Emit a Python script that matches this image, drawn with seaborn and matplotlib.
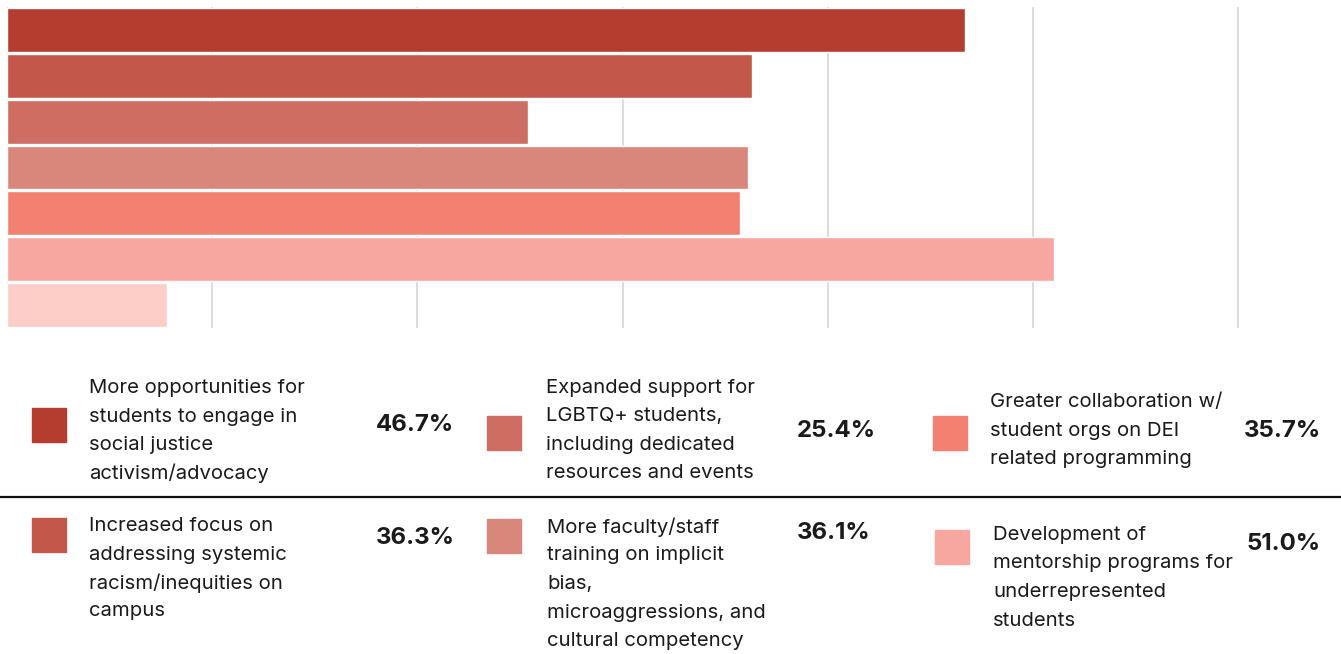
import matplotlib
matplotlib.use("Agg")
import matplotlib.pyplot as plt
import seaborn as sns
import pandas as pd

# ---- data ----
categories = [
    "More opportunities for\nstudents to engage in\nsocial justice\nactivism/advocacy",
    "Increased focus on\naddressing systemic\nracism/inequities on\ncampus",
    "Expanded support for\nLGBTQ+ students,\nincluding dedicated\nresources and events",
    "More faculty/staff\ntraining on implicit\nbias,\nmicroaggressions, and\ncultural competency",
    "Greater collaboration w/\nstudent orgs on DEI\nrelated programming",
    "Development of\nmentorship programs for\nunderrepresented\nstudents",
    "Other",
]
values = [46.7, 36.3, 25.4, 36.1, 35.7, 51.0, 7.8]
value_labels = ["46.7%", "36.3%", "25.4%", "36.1%", "35.7%", "51.0%", ""]
colors = ["#B53D2F", "#C2574A", "#CE6D61", "#D9877B", "#F38172", "#F7A79F", "#FDCDC8"]

# legend layout: (category index, square centre x,y, text x, first line y, value x, value y)
legend_layout = [
    (0, 49, 425, 89, 388, 376, 425),
    (2, 504, 433, 546, 388, 797, 431),
    (4, 950, 433, 990, 402, 1244, 431),
    (1, 49, 535, 89, 526, 376, 538),
    (3, 504, 536, 547, 527, 797, 533),
    (5, 952, 547, 993, 535, 1246, 544),
]

W, H = 1341, 654
sns.set_theme(style="white")
plt.rcParams["font.family"] = ["Inter", "DejaVu Sans"]

fig = plt.figure(figsize=(W / 100, H / 100), dpi=100)
ax = fig.add_axes([7 / W, 1 - 328 / H, 1 - 7 / W, (328 - 7) / H])

df = pd.DataFrame({"cat": categories, "val": values})
sns.barplot(data=df, y="cat", x="val", hue="cat", palette=colors, orient="h",
            width=0.955, legend=False, ax=ax, saturation=1)

ax.set_xlim(0, 65.0)
ax.set_ylim(6.5, -0.5)
ax.set_xticks([0, 10, 20, 30, 40, 50, 60])
ax.xaxis.grid(True, color="#D6D6D6", linewidth=1.2)
ax.set_axisbelow(True)
ax.set_xticklabels([])
ax.set_yticks([])
ax.set_xlabel("")
ax.set_ylabel("")
for s in ax.spines.values():
    s.set_visible(False)
ax.tick_params(length=0)

def fx(x):
    return x / W

def fy(y):
    return 1 - y / H

text_color = "#1A1A1A"
sq = 34
line_step = 28.5
for idx, sx, sy, tx, ty, vx, vy in legend_layout:
    fig.patches.append(plt.Rectangle((fx(sx - sq / 2), fy(sy + sq / 2)), sq / W, sq / H,
                                     transform=fig.transFigure, color=colors[idx]))
    for k, line in enumerate(categories[idx].split("\n")):
        fig.text(fx(tx), fy(ty + k * line_step), line, ha="left", va="center",
                 fontsize=14.6, color=text_color)
    fig.text(fx(vx), fy(vy), value_labels[idx], ha="left", va="center",
             fontsize=17.3, fontweight="bold", color=text_color)

fig.add_artist(plt.Line2D([0, 1], [fy(497), fy(497)], transform=fig.transFigure,
                          color="#111111", linewidth=1.6))

fig.savefig("out.png", dpi=100)
